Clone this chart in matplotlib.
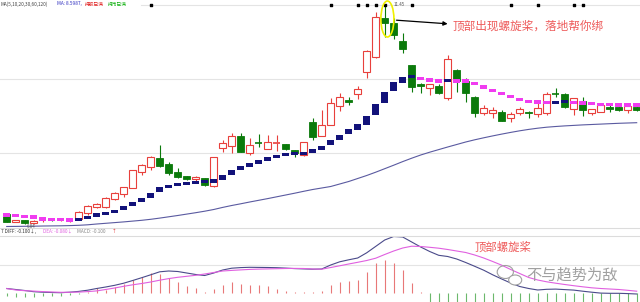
import numpy as np
import matplotlib
matplotlib.use('Agg')
import matplotlib.pyplot as plt
from matplotlib.patches import Rectangle, Ellipse
from matplotlib.lines import Line2D

plt.rcParams['font.family'] = ['Noto Sans CJK SC', 'DejaVu Sans']

# candle data (price units, arbitrary scale)
opens = [36.0, 28.3, 30.0, 26.7, 29.7, 31.0, 30.2, 29.5, 30.7, 36.7,
         43.3, 43.5, 51.0, 56.0, 62.5, 78.5, 83.5, 91.7, 86.0, 78.0,
         74.0, 71.2, 71.7, 63.7, 101.7, 104.5, 114.0, 97.3, 106.7, 101.5,
         107.5, 105.7, 100.0, 95.0, 128.0, 114.5, 125.5, 144.5, 149.7, 155.8,
         178.3, 192.7, 231.7, 226.7, 209.3, 185.0, 166.0, 161.7, 164.5, 151.7,
         180.0, 169.3, 153.3, 137.3, 136.7, 138.3, 132.3, 137.3, 138.3, 136.0,
         137.3, 156.2, 155.7, 140.7, 149.3, 137.3, 138.3, 143.3, 143.3, 140.0,
         143.3]
highs = [37.0, 30.5, 30.5, 30.0, 31.5, 31.5, 32.0, 31.0, 39.0, 45.0,
         47.3, 53.0, 58.0, 63.5, 80.5, 86.0, 94.0, 105.0, 88.3, 81.7,
         74.5, 73.7, 72.0, 93.5, 110.0, 116.7, 116.7, 111.7, 116.5, 115.0,
         115.5, 106.5, 100.5, 108.5, 131.7, 140.0, 151.7, 157.3, 153.3, 164.0,
         200.0, 238.3, 245.0, 231.7, 216.7, 185.5, 167.0, 166.5, 166.0, 195.0,
         181.0, 171.7, 154.0, 145.0, 143.3, 140.0, 138.3, 142.7, 139.0, 150.0,
         158.3, 161.7, 157.0, 152.5, 153.3, 141.5, 146.7, 146.0, 146.0, 146.7,
         145.0]
lows = [28.0, 28.0, 26.0, 26.0, 28.5, 29.0, 29.0, 28.5, 30.0, 35.0,
        41.7, 42.5, 50.5, 53.0, 62.0, 75.0, 80.0, 83.0, 75.0, 71.7,
        70.5, 68.0, 64.0, 63.0, 98.3, 97.3, 98.0, 95.0, 103.0, 101.0,
        99.0, 100.5, 93.0, 94.0, 110.0, 114.0, 125.0, 139.0, 145.0, 151.3,
        171.7, 192.0, 213.3, 210.7, 196.7, 158.3, 156.7, 155.0, 156.5, 150.0,
        158.3, 148.3, 133.3, 135.0, 131.7, 129.0, 128.3, 135.0, 132.3, 133.3,
        135.0, 153.3, 142.0, 135.0, 134.0, 135.0, 137.7, 138.3, 139.0, 137.3,
        139.0]
closes = [28.3, 30.0, 26.7, 29.3, 30.2, 30.0, 30.7, 30.2, 38.3, 44.0,
          46.0, 52.5, 57.3, 63.0, 80.0, 85.5, 93.5, 84.0, 77.3, 73.3,
          71.2, 73.3, 64.7, 93.3, 106.7, 114.0, 98.5, 105.0, 105.7, 108.0,
          108.2, 101.5, 96.7, 108.0, 113.0, 125.0, 147.3, 152.7, 148.0, 161.3,
          199.3, 232.7, 227.3, 215.0, 201.0, 162.7, 164.5, 166.0, 157.3, 190.7,
          169.3, 157.3, 137.3, 141.7, 140.0, 129.3, 135.7, 141.0, 136.7, 141.7,
          155.7, 155.5, 142.7, 151.7, 140.0, 140.7, 145.0, 140.7, 140.0, 144.0,
          140.0]

ma_short = [35.0, 34.3, 33.7, 33.0, 31.0, 30.7, 30.5, 30.0, 30.7, 32.7,
            35.0, 36.5, 38.7, 42.0, 46.0, 50.2, 54.7, 60.5, 63.5, 65.5,
            66.3, 67.5, 68.3, 69.0, 72.5, 77.5, 81.7, 85.0, 88.0, 90.8,
            93.3, 95.3, 96.3, 96.5, 98.8, 102.0, 107.3, 112.7, 118.3, 122.7,
            130.0, 140.7, 152.3, 163.3, 170.0, 173.5, 171.7, 170.0, 169.0, 169.3,
            169.2, 169.0, 166.7, 162.7, 159.3, 156.7, 153.3, 150.7, 148.3, 148.0,
            147.3, 147.7, 148.3, 147.3, 147.0, 146.7, 145.5, 145.5, 145.0, 145.0,
            145.0]

ma_long = [23.5, 23.6, 23.7, 23.8, 24.0, 24.1, 24.2, 24.4, 24.7, 25.2,
           26.0, 26.7, 27.4, 28.1, 28.9, 29.7, 30.7, 31.9, 33.2, 34.5,
           35.9, 37.3, 38.8, 40.5, 42.6, 44.5, 46.2, 48.0, 49.7, 51.4,
           53.2, 55.0, 56.8, 58.7, 60.5, 62.0, 63.5, 66.0, 68.5, 71.5,
           74.5, 77.8, 81.3, 84.8, 88.4, 91.8, 95.0, 97.8, 100.4, 103.0,
           105.5, 108.0, 110.2, 112.2, 114.1, 115.9, 117.6, 119.2, 120.6, 121.8,
           122.8, 123.5, 124.1, 124.6, 125.1, 125.5, 125.9, 126.3, 126.7, 127.0,
           127.3]

diff = [0.040, 0.030, 0.020, 0.008, 0.003, 0.000, -0.002, 0.003, 0.011, 0.023,
        0.040, 0.055, 0.072, 0.093, 0.120, 0.148, 0.177, 0.207, 0.215, 0.210,
        0.195, 0.180, 0.170, 0.195, 0.225, 0.243, 0.249, 0.252, 0.251, 0.250,
        0.248, 0.244, 0.239, 0.236, 0.233, 0.235, 0.275, 0.307, 0.327, 0.345,
        0.397, 0.461, 0.525, 0.560, 0.555, 0.505, 0.455, 0.410, 0.372, 0.360,
        0.335, 0.300, 0.262, 0.223, 0.177, 0.135, 0.095, 0.060, 0.040, 0.025,
        0.032, 0.034, 0.029, 0.024, 0.013, 0.003, -0.006, -0.008, -0.008, -0.011,
        -0.015]
dea = [0.039, 0.025, 0.018, 0.014, 0.009, 0.005, 0.002, 0.002, 0.004, 0.009,
       0.016, 0.030, 0.045, 0.062, 0.077, 0.090, 0.105, 0.123, 0.139, 0.152,
       0.162, 0.172, 0.185, 0.200, 0.215, 0.221, 0.226, 0.231, 0.234, 0.236,
       0.238, 0.240, 0.241, 0.240, 0.235, 0.233, 0.250, 0.267, 0.285, 0.302,
       0.320, 0.343, 0.380, 0.415, 0.445, 0.463, 0.460, 0.452, 0.443, 0.430,
       0.415, 0.400, 0.375, 0.345, 0.310, 0.273, 0.230, 0.190, 0.150, 0.125,
       0.107, 0.093, 0.080, 0.068, 0.057, 0.047, 0.040, 0.035, 0.030, 0.022,
       0.013]
macd = [-0.035, -0.045, -0.045, -0.040, -0.035, -0.035, -0.030, -0.020, -0.010, 0.010,
        0.042, 0.025, 0.058, 0.082, 0.125, 0.158, 0.192, 0.182, 0.142, 0.108,
        0.065, 0.042, 0.008, 0.035, 0.075, 0.108, 0.082, 0.075, 0.075, 0.065,
        0.035, 0.015, 0.004, 0.003, 0.003, 0.015, 0.075, 0.108, 0.115, 0.125,
        0.208, 0.292, 0.325, 0.292, 0.225, 0.092, 0.005, -0.10, -0.13, -0.14,
        -0.16, -0.19, -0.21, -0.23, -0.26, -0.29, -0.31, -0.32, -0.33, -0.30,
        -0.27, -0.25, -0.24, -0.22, -0.20, -0.18, -0.16, -0.14, -0.12, -0.11,
        -0.10]

signal_days = [16, 36, 39, 40, 41, 42, 45, 56, 59, 63, 64]

RED = '#e8403c'
GREEN = '#0b7a0b'
NAVY = '#12127a'
MAGENTA = '#f03cf0'

n = len(opens)
idx = np.arange(n)

fig = plt.figure(figsize=(6.4, 3.02), dpi=100)
ax = fig.add_axes([0, 74 / 302, 1, 228 / 302])
ax2 = fig.add_axes([0, 0, 1, 66 / 302])
xlim = (-6.7 / 9, (640 - 6.7) / 9)
for a in (ax, ax2):
    a.set_xlim(*xlim)
    a.axis('off')
ax.set_ylim(22, 250)
ax2.set_ylim(-0.095, 0.565)

# grid lines
for y in (171, 97):
    ax.axhline(y, color='#e4e4e4', lw=0.8, zorder=0)
ax.axhline(245, xmin=0.22, color='#e4e4e4', lw=0.8, zorder=0)
ax2.axhline(0.275, color='#e4e4e4', lw=0.8, zorder=0)
for yp in (228, 236):
    fig.add_artist(Line2D([0, 1], [1 - yp / 302] * 2, color='#dcdcdc', lw=0.8))

# long moving average
ax.plot(idx, ma_long, color='#5a5aa0', lw=0.8, zorder=1)

# candles
w = 0.72
for i in range(n):
    o, h, l, c = opens[i], highs[i], lows[i], closes[i]
    if c >= o:
        col = RED
        ax.vlines(i, c, h, color=col, lw=0.8, zorder=2)
        ax.vlines(i, l, o, color=col, lw=0.8, zorder=2)
        if c - o < 1.2:
            ax.hlines(o, i - w / 2, i + w / 2, color=col, lw=1.2, zorder=3)
        else:
            ax.add_patch(Rectangle((i - w / 2, o), w, c - o, facecolor='white',
                                   edgecolor=col, lw=0.8, zorder=3))
    else:
        col = GREEN
        ax.vlines(i, l, h, color=col, lw=0.8, zorder=2)
        if o - c < 1.2:
            ax.hlines(o, i - w / 2, i + w / 2, color=col, lw=1.2, zorder=3)
        else:
            ax.add_patch(Rectangle((i - w / 2, c), w, o - c, facecolor=col,
                                   edgecolor=col, lw=0.6, zorder=3))

# short moving average, drawn as coloured blocks
for i in range(n):
    prev = ma_short[i - 1] if i > 0 else ma_short[i]
    nxt = ma_short[i + 1] if i < n - 1 else ma_short[i]
    hgt = max(3.5, abs(nxt - prev) / 2)
    col = NAVY if ma_short[i] > prev else MAGENTA
    if i == 0:
        col = MAGENTA
    ax.add_patch(Rectangle((i - w / 2, ma_short[i] - hgt / 2), w, hgt,
                           facecolor=col, edgecolor='none', zorder=4))

# signal dots along the top
ax.scatter(signal_days, [245] * len(signal_days), marker='s', s=3, color='black', zorder=5)
ax.text(43.0, 245, '11.45', fontsize=3.2, color='#555555', va='center', ha='left')
ax.text(2.2, 23.5, '6.84', fontsize=3.2, color='#555555', va='center', ha='left')

# annotation
ax.add_patch(Ellipse((42.3, 231), 1.45, 36, fill=False, ec='#f0f000', lw=1.2, zorder=6))
ax.annotate('', xy=(49.3, 226), xytext=(43.0, 230),
            arrowprops=dict(arrowstyle='-|>', color='black', lw=0.9, mutation_scale=6))
ax.text(49.5, 223.5, '顶部出现螺旋桨，落地帮你绑', fontsize=8.4, color='#ee5a5a',
        va='center', ha='left')

# header
hy = 1 - 4 / 302
fig.text(0.001, hy, 'MA(5,10,20,30,60,120)', fontsize=3.4, color='#444444', va='center')
fig.text(57 / 640, hy, 'MA: 8.5987,', fontsize=3.4, color='#3030c0', va='center')
fig.text(85 / 640, hy, '持股已满', fontsize=3.4, color='#e02020', va='center')
fig.text(108 / 640, hy, '持币已满', fontsize=3.4, color='#10b010', va='center')

# MACD panel
colors = ['#e87878' if v >= 0 else '#6cb86c' for v in macd]
ax2.vlines(idx, 0, macd, colors=colors, lw=0.8, zorder=1)
ax2.plot(idx, diff, color='#4a4a8a', lw=0.8, zorder=2)
ax2.plot(idx, dea, color='#e060e0', lw=0.8, zorder=2)

my = 1 - 231.5 / 302
fig.text(0.001, my, '7 DIFF: -0.100↓,', fontsize=3.4, color='#333333', va='center')
fig.text(43 / 640, my, 'DEA: -0.080↓', fontsize=3.4, color='#e060e0', va='center')
fig.text(77 / 640, my, 'MACD: -0.100', fontsize=3.4, color='#888888', va='center')
fig.text(112 / 640, my, '↑', fontsize=3.4, color='#e02020', va='center')

ax2.text(52.0, 0.458, '顶部螺旋桨', fontsize=8.2, color='#ee5a5a', va='center', ha='left')

# watermark
ax2.add_patch(Ellipse((55.4, 0.205), 1.8, 0.13, fill=False, ec='#a0a0a0', lw=0.8, zorder=5))
ax2.add_patch(Ellipse((56.5, 0.125), 1.45, 0.10, facecolor='white', ec='#a0a0a0', lw=0.8, zorder=6))
ax2.text(57.7, 0.175, '不与趋势为敌', fontsize=11, color='#a0a0a0', va='center', ha='left', zorder=7)

fig.savefig('out.png', dpi=100)
